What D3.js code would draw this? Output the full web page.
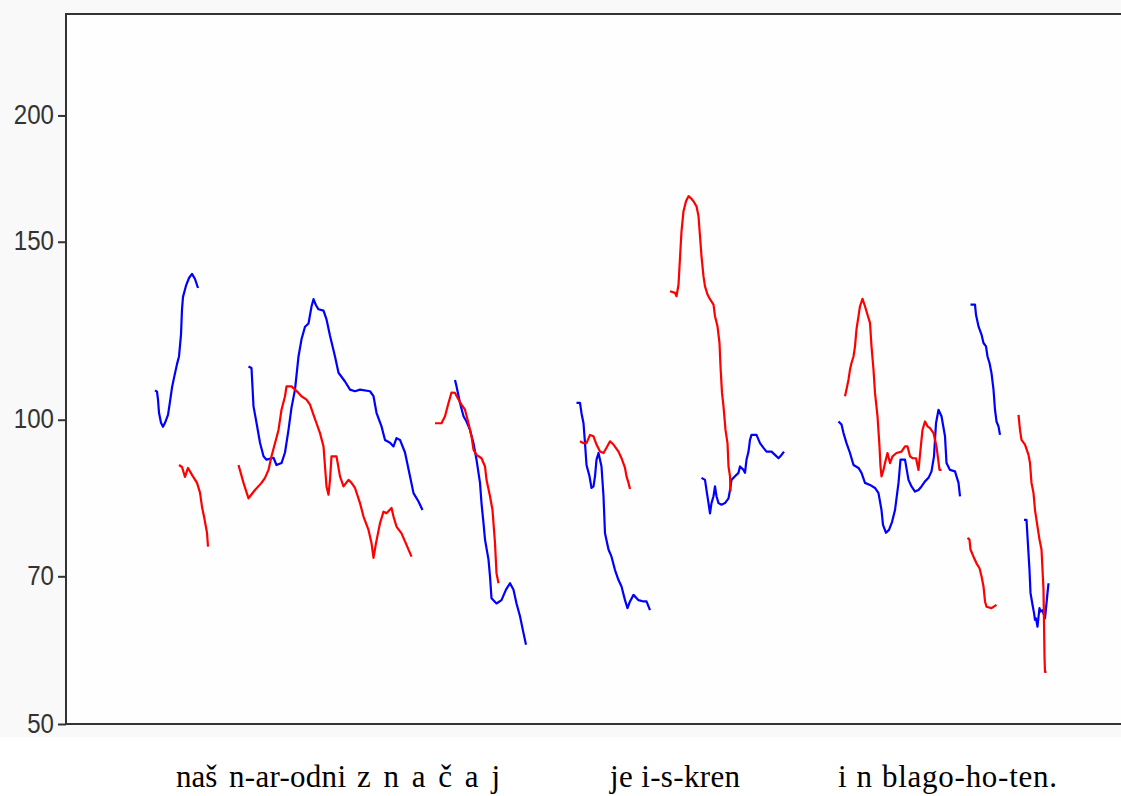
<!DOCTYPE html>
<html>
<head>
<meta charset="utf-8">
<script src="https://cdn.jsdelivr.net/npm/d3@7/dist/d3.min.js"></script>
<style>
  html, body { margin: 0; padding: 0; background: #ffffff; }
  svg { display: block; }
  .tick text { font-family: "Liberation Sans", Arial, sans-serif; }
</style>
</head>
<body>
<svg id="chart" width="1121" height="796"></svg>
<script>
// Pitch contours (time in ms, F0 in Hz), one array per voiced stretch.
const blue1 = [[178,106.9],[182,106.6],[184,104.7],[186,101.6],[190,99.3],[194,98.4],[198,99.3],[204,101.1],[208,104.2],[212,107.6],[216,110.0],[222,113.5],[226,115.5],[230,121.4],[232,128.6],[234,132.3],[240,135.7],[246,138.1],[252,139.4],[258,137.8],[264,135.0]];
const blue2 = [[365,112.9],[371,112.5],[375,103.1],[381,99.3],[388,94.9],[395,92.0],[401,91.3],[415,91.7],[421,90.2],[431,90.6],[438,92.8],[445,97.7],[451,102.8],[458,107.1],[465,115.5],[471,120.1],[478,123.6],[485,124.5],[491,129.4],[495,131.6],[500,129.8],[505,128.6],[515,128.2],[521,125.7],[528,121.1],[538,115.5],[545,111.3],[558,109.1],[568,107.1],[578,106.7],[588,107.1],[608,106.7],[615,105.5],[621,101.6],[631,98.5],[638,95.5],[648,94.9],[655,94.1],[661,95.9],[668,95.5],[678,92.8],[688,87.9],[695,84.6],[705,83.0],[713,81.4]];
const blue3 = [[778,109.5],[781,107.9],[788,103.9],[795,100.8],[801,99.6],[808,97.7],[815,94.8],[821,91.3],[828,86.6],[831,82.7],[835,79.0],[838,76.1],[845,72.7],[848,70.0],[851,66.6],[861,65.8],[871,66.3],[880,67.9],[888,68.9],[895,67.9],[901,65.8],[908,63.9],[915,61.5],[920,59.9]];
const blue4 = [[1021,103.9],[1028,103.9],[1031,101.5],[1035,99.2],[1038,94.8],[1041,90.2],[1047,87.9],[1051,85.6],[1055,85.9],[1058,87.9],[1061,91.3],[1065,92.7],[1068,91.3],[1071,89.9],[1075,84.0],[1078,77.2],[1085,74.4],[1091,73.2],[1098,71.0],[1105,69.4],[1111,68.4],[1118,66.3],[1123,65.1],[1128,66.1],[1135,67.1],[1145,66.3],[1155,66.1],[1161,66.1],[1168,64.8]];
const blue5 = [[1271,87.6],[1278,87.2],[1281,85.2],[1285,82.7],[1288,80.8],[1291,82.7],[1295,84.0],[1298,85.9],[1301,84.0],[1305,82.7],[1311,82.4],[1318,82.7],[1325,83.6],[1328,85.2],[1331,87.2],[1338,87.9],[1345,88.6],[1348,89.9],[1355,89.2],[1358,88.6],[1361,91.3],[1365,93.0],[1368,95.5],[1371,96.6],[1381,96.6],[1388,94.8],[1395,93.8],[1401,93.0],[1411,93.0],[1418,92.3],[1425,91.6],[1431,92.3],[1436,93.0]];
const blue6 = [[1545,99.6],[1551,98.9],[1555,97.0],[1561,94.8],[1568,92.7],[1575,90.2],[1585,89.6],[1591,88.6],[1598,86.6],[1608,86.2],[1618,85.6],[1625,84.6],[1631,81.4],[1634,78.7],[1640,77.3],[1646,77.8],[1652,79.2],[1658,81.4],[1665,86.6],[1669,91.3],[1678,91.3],[1685,87.2],[1691,85.9],[1698,84.9],[1705,85.2],[1711,85.9],[1718,86.9],[1725,87.6],[1731,88.9],[1736,92.0],[1740,99.2],[1745,102.3],[1751,100.8],[1758,96.3],[1761,90.6],[1768,89.2],[1778,88.9],[1785,86.6],[1788,84.0]];
const blue7 = [[1809,130.0],[1818,130.0],[1820,127.0],[1825,123.7],[1831,121.4],[1835,119.1],[1840,118.2],[1843,115.5],[1847,113.8],[1851,111.2],[1855,107.1],[1858,102.3],[1861,99.6],[1865,98.5],[1868,96.6]];
const blue8 = [[1916,79.6],[1921,79.6],[1923,76.6],[1927,71.0],[1929,67.4],[1933,65.6],[1936,64.4],[1938,63.4],[1940,63.6],[1943,62.4],[1945,63.8],[1947,65.1],[1949,64.6],[1953,64.8],[1958,63.6],[1961,65.8],[1963,67.4],[1965,68.9]];

const red1 = [[226,90.2],[232,89.8],[238,87.8],[244,89.6],[252,88.2],[262,86.6],[268,84.7],[272,82.0],[276,80.2],[282,77.3],[284,74.9]];
const red2 = [[345,90.2],[355,86.6],[365,83.6],[368,84.0],[378,85.2],[391,86.6],[398,87.6],[405,89.2],[411,92.0],[418,94.8],[425,97.7],[431,102.3],[438,105.5],[441,107.9],[451,107.9],[458,107.1],[465,106.3],[471,105.5],[481,104.7],[488,103.5],[495,101.1],[501,99.2],[508,97.0],[515,94.1],[518,89.9],[521,85.9],[525,84.3],[528,87.2],[531,92.0],[541,92.0],[548,87.9],[555,85.9],[565,87.2],[571,86.6],[578,85.6],[588,82.7],[595,80.2],[605,77.8],[611,75.5],[615,73.0],[620,75.5],[628,79.0],[635,81.1],[641,80.8],[651,81.8],[655,80.2],[661,78.4],[671,77.2],[681,75.2],[691,73.2]];
const red3 = [[738,99.2],[751,99.2],[758,100.8],[765,103.9],[771,106.4],[778,106.3],[785,104.7],[791,103.5],[798,102.3],[805,99.2],[811,96.3],[815,93.4],[821,92.3],[831,91.6],[838,89.9],[841,87.2],[848,84.0],[853,81.4],[858,75.5],[861,70.5],[865,68.9]];
const red4 = [[1028,95.2],[1035,94.8],[1041,94.8],[1048,96.6],[1055,96.3],[1061,94.5],[1068,93.0],[1075,92.7],[1081,93.8],[1088,95.2],[1095,94.5],[1105,93.0],[1111,91.6],[1118,89.6],[1121,87.9],[1125,86.6],[1128,85.4]];
const red5 = [[1208,134.0],[1218,133.5],[1221,132.5],[1225,136.0],[1228,144.6],[1231,153.6],[1235,160.8],[1240,164.5],[1245,166.4],[1249,165.8],[1255,164.5],[1261,162.6],[1265,159.0],[1268,151.9],[1271,145.1],[1275,138.6],[1278,135.5],[1283,133.0],[1288,131.6],[1295,130.0],[1298,126.6],[1303,123.7],[1307,119.1],[1309,112.9],[1312,106.3],[1315,103.1],[1319,97.7],[1323,94.8],[1325,89.9],[1328,87.9],[1329,84.9]];
const red6 = [[1558,105.5],[1561,107.1],[1565,109.6],[1568,112.1],[1571,113.8],[1575,115.5],[1578,118.2],[1581,122.9],[1585,126.6],[1588,129.5],[1593,131.7],[1598,129.5],[1603,127.0],[1608,124.7],[1611,118.2],[1615,112.1],[1618,106.3],[1623,100.8],[1627,94.1],[1629,89.9],[1631,87.9],[1635,89.2],[1638,90.6],[1643,92.7],[1648,90.6],[1653,92.0],[1661,92.7],[1671,93.0],[1678,94.1],[1683,94.1],[1688,92.0],[1693,91.6],[1700,91.6],[1705,89.2],[1709,93.4],[1713,97.7],[1718,99.6],[1723,98.5],[1728,98.1],[1735,97.0],[1741,94.1],[1747,89.2],[1751,89.2]];
const red7 = [[1803,76.4],[1807,76.1],[1809,74.4],[1815,73.2],[1821,72.1],[1827,71.3],[1831,70.0],[1835,68.4],[1838,66.1],[1841,65.3],[1851,65.1],[1861,65.6]];
const red8 = [[1905,101.1],[1908,97.7],[1911,95.5],[1918,94.5],[1925,92.3],[1928,90.6],[1931,86.6],[1935,84.6],[1938,81.4],[1943,78.4],[1947,76.1],[1951,74.4],[1955,67.9],[1956,62.9],[1957,58.3],[1958,56.3],[1961,56.3]];

const blueTracks = [blue1, blue2, blue3, blue4, blue5, blue6, blue7, blue8];
const redTracks = [red1, red2, red3, red4, red5, red6, red7, red8];

// Frequency ticks (Hz) and the utterance transcription aligned to time (ms):
// each syllable group has a start and an end time.
const freqTicks = [50, 70, 100, 150, 200];
const syllables = ["naš", "n-ar-odni", "z n a č a j", "je i-s-kren", "i n", "blago-ho-ten."];
const syllableStarts = [220, 326, 582, 1088, 1544, 1632];
const syllableEnds = [300, 560, 868, 1348, 1612, 1982];

const svg = d3.select("#chart");
const W = 1121;
const plotL = 66, plotT = 14, plotR = 1121, plotB = 724;

const x = d3.scaleLinear().domain([0, 2110]).range([plotL, plotR]);
const y = d3.scaleLog().domain([50, 252]).range([plotB, plotT]);

// panel backgrounds
svg.append("rect").attr("x", 0).attr("y", 0).attr("width", W).attr("height", 737).attr("fill", "#f9f9f9");
svg.append("rect").attr("x", plotL).attr("y", plotT).attr("width", plotR - plotL).attr("height", plotB - plotT).attr("fill", "#fefefe");

// contours
const line = d3.line().x(d => x(d[0])).y(d => y(d[1]));
const g = svg.append("g").attr("fill", "none").attr("stroke-width", 2.2).attr("stroke-linejoin", "round");
g.selectAll("path.blue").data(blueTracks).join("path")
  .attr("class", "blue").attr("stroke", "#0000ff").attr("d", line);
g.selectAll("path.red").data(redTracks).join("path")
  .attr("class", "red").attr("stroke", "#ff0000").attr("d", line);

// frame
const frame = svg.append("g").attr("stroke", "#333").attr("stroke-width", 2).attr("fill", "none");
frame.append("path").attr("d", `M${plotR},${plotT}H${plotL}V${plotB}H${plotR}`);

// y axis
const yAxis = d3.axisLeft(y).tickValues(freqTicks).tickFormat(d3.format("d")).tickSize(8).tickPadding(4);
const ya = svg.append("g").attr("transform", `translate(${plotL},0)`).call(yAxis);
ya.select(".domain").remove();
ya.selectAll(".tick line").attr("stroke", "#333").attr("stroke-width", 2);
ya.selectAll(".tick text")
  .attr("fill", "#333")
  .attr("font-size", 27)
  .attr("dy", "0.3em")
  .attr("textLength", d => String(d).length * 13.4)
  .attr("lengthAdjust", "spacingAndGlyphs");

// transcription, letter-spaced (never shrunk) to span each group's time range
const labels = svg.append("g").selectAll("text").data(syllables).join("text")
  .attr("x", (d, i) => x(syllableStarts[i]))
  .attr("y", 787)
  .attr("font-family", "'Liberation Serif', 'Times New Roman', serif")
  .attr("font-size", 31)
  .attr("fill", "#000")
  .text(d => d);
labels.each(function (d, i) {
  const target = x(syllableEnds[i]) - x(syllableStarts[i]);
  const natural = this.getComputedTextLength();
  if (natural < target) {
    d3.select(this).attr("textLength", target).attr("lengthAdjust", "spacing");
  }
});
</script>
</body>
</html>
